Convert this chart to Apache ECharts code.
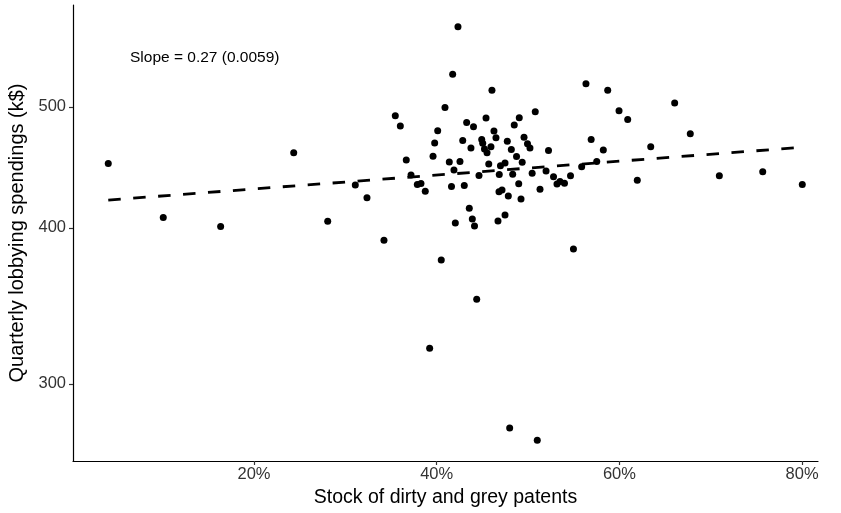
<!DOCTYPE html>
<html>
<head>
<meta charset="utf-8">
<script src="https://cdn.jsdelivr.net/npm/echarts@6/dist/echarts.min.js"></script>
<style>
  html, body { margin: 0; padding: 0; background: #fff; }
  #chart { width: 841px; height: 513px; }
</style>
</head>
<body>
<div id="chart"></div>
<script>
// stock of dirty and grey patents (%), one entry per firm
const stockPct = [
  4.05, 10.07, 16.35, 24.35, 28.07, 31.09, 32.37, 34.23, 35.47, 36.02,
  36.67, 37.19, 37.88, 38.28, 38.75, 39.23, 39.60, 39.78, 40.11, 40.50,
  40.91, 41.38, 41.62, 41.75, 41.89, 42.04, 42.33, 42.55, 42.85, 43.02,
  43.28, 43.57, 43.75, 43.90, 44.03, 44.14, 44.38, 44.63, 44.93, 45.04,
  45.23, 45.40, 45.51, 45.70, 45.94, 46.05, 46.27, 46.49, 46.71, 46.85,
  46.82, 46.98, 47.15, 47.48, 47.48, 47.73, 47.84, 47.99, 48.17, 48.32,
  48.49, 48.74, 48.98, 49.04, 49.23, 49.36, 49.56, 49.94, 50.21, 50.45,
  50.79, 51.01, 51.31, 51.97, 52.24, 52.79, 53.17, 53.50, 53.99, 54.65,
  54.97, 55.87, 56.34, 56.91, 57.52, 58.24, 58.72, 59.96, 60.91, 61.96,
  63.43, 66.05, 67.76, 70.94, 75.69, 80.02
];
// quarterly lobbying spendings (k$)
const spending = [
  450.4, 407.7, 401.0, 459.3, 404.8, 432.8, 422.8, 391.0, 491.8, 482.5,
  453.2, 440.8, 433.3, 434.1, 427.8, 320.3, 456.3, 467.6, 478.3, 376.9,
  499.3, 451.5, 431.6, 530.8, 444.9, 403.5, 579.5, 452.1, 469.8, 432.4,
  485.8, 414.6, 463.4, 406.5, 481.9, 401.3, 350.6, 440.4, 470.7, 467.4,
  462.5, 489.7, 459.3, 449.9, 464.4, 515.4, 478.1, 472.2, 405.0, 441.2,
  427.5, 448.5, 428.8, 450.7, 409.5, 469.1, 424.1, 276.5, 462.2, 441.4,
  483.4, 456.1, 433.8, 490.0, 421.8, 451.4, 472.6, 467.0, 463.4, 442.3,
  495.4, 270.3, 429.4, 444.1, 461.2, 439.4, 433.6, 435.6, 434.2, 440.2,
  384.6, 447.6, 521.7, 470.7, 452.1, 461.6, 515.4, 496.3, 488.5, 436.6,
  464.4, 503.4, 475.7, 440.2, 443.5, 433.3
];
// fitted line end points
const fitX = [4.05, 80.0];
const fitY = [421.0, 464.0];

const xTicks = [20, 40, 60, 80];
const yTicks = [300, 400, 500];
const slopeLabel = 'Slope = 0.27 (0.0059)';

const points = stockPct.map((x, i) => [x, spending[i]]);
const fitLine = fitX.map((x, i) => [x, fitY[i]]);

const font = '"Liberation Sans", Arial, Helvetica, sans-serif';
const chart = echarts.init(document.getElementById('chart'), null, { renderer: 'canvas' });

chart.setOption({
  animation: false,
  backgroundColor: '#fff',
  textStyle: { fontFamily: font },
  title: {
    text: slopeLabel,
    left: 125,
    top: 45,
    textStyle: { fontSize: 15.5, fontWeight: 'normal', color: '#000', fontFamily: font }
  },
  grid: { left: 73, right: 23, top: 5, bottom: 52, containLabel: false, outerBoundsMode: 'none' },
  xAxis: {
    type: 'value',
    min: 0.19,
    max: 81.74,
    name: 'Stock of dirty and grey patents',
    nameLocation: 'middle',
    nameGap: 27,
    nameTextStyle: { fontSize: 19.5, color: '#000', fontFamily: font },
    axisLine: { lineStyle: { color: '#000', width: 1.2 } },
    axisTick: { customValues: xTicks, length: 4, lineStyle: { color: '#333', width: 1.2 } },
    axisLabel: {
      customValues: xTicks,
      formatter: v => v + '%',
      fontSize: 16.5, color: '#333', margin: 5, fontFamily: font
    },
    splitLine: { show: false }
  },
  yAxis: {
    type: 'log',
    logBase: 10,
    min: 260.2,
    max: 603.2,
    name: 'Quarterly lobbying spendings (k$)',
    nameLocation: 'middle',
    nameGap: 46,
    nameTextStyle: { fontSize: 20, color: '#000', fontFamily: font },
    axisLine: { lineStyle: { color: '#000', width: 1.2 } },
    axisTick: { customValues: yTicks, length: 4, lineStyle: { color: '#333', width: 1.2 } },
    axisLabel: {
      customValues: yTicks,
      formatter: v => String(Math.round(v)),
      fontSize: 16.5, color: '#333', margin: 7, fontFamily: font
    },
    splitLine: { show: false }
  },
  series: [
    {
      type: 'line',
      data: fitLine,
      symbol: 'none',
      lineStyle: { color: '#000', width: 2.8, type: [12.5, 12.5] },
      z: 2
    },
    {
      type: 'scatter',
      data: points,
      symbolSize: 7,
      itemStyle: { color: '#000', opacity: 1 },
      z: 3
    }
  ]
});
</script>
</body>
</html>
